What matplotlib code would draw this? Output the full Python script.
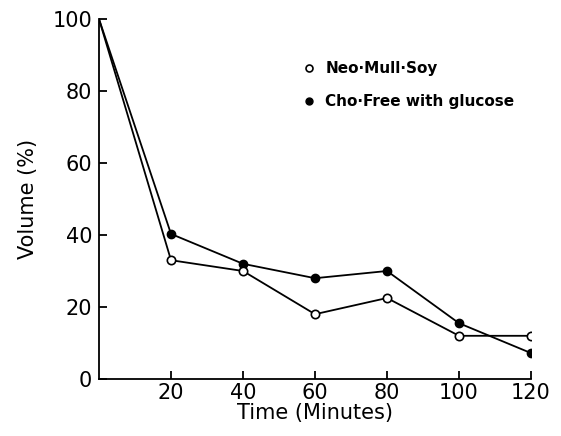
import matplotlib
matplotlib.use("Agg")
import matplotlib.pyplot as plt
from matplotlib.lines import Line2D

time = [0, 20, 40, 60, 80, 100, 120]
neo_mull_soy = [100, 33, 30, 18, 22.5, 12, 12]
cho_free = [100, 40.3, 32, 28, 30, 15.5, 7.2]
xticks = [20, 40, 60, 80, 100, 120]
yticks = [0, 20, 40, 60, 80, 100]

plt.rcParams['font.family'] = ['DejaVu Sans']
fig = plt.figure(figsize=(5.61, 4.36), dpi=100)
ax = fig.add_axes([99/561, 1-379/436, (531-99)/561, (379-19)/436])

marks = list(range(1, len(time)))
ax.plot(time, cho_free, color='black', lw=1.3, marker='o', ms=6,
        mfc='black', mec='black', markevery=marks, zorder=3)
ax.plot(time, neo_mull_soy, color='black', lw=1.3, marker='o', ms=6,
        mfc='white', mec='black', mew=1.2, markevery=marks, zorder=4)

ax.set_xlim(0, 120)
ax.set_ylim(0, 100)
ax.set_xticks(xticks)
ax.set_yticks(yticks)
ax.spines['top'].set_visible(False)
ax.spines['right'].set_visible(False)
for s in ('left', 'bottom'):
    ax.spines[s].set_linewidth(1.3)
ax.tick_params(direction='in', length=6, width=1.3, labelsize=15)
ax.tick_params(axis='y', pad=5)
ax.tick_params(axis='x', pad=3)
ax.set_xlabel('Time (Minutes)', fontsize=15, labelpad=0)
ax.set_ylabel('Volume (%)', fontsize=15, labelpad=10)

handles = [
    Line2D([], [], ls='none', marker='o', ms=5, mfc='white', mec='black', mew=1.2),
    Line2D([], [], ls='none', marker='o', ms=5, mfc='black', mec='black'),
]
leg = fig.legend(handles, ['Neo·Mull·Soy', 'Cho·Free with glucose'],
                 loc='upper left', bbox_to_anchor=(301/561, 1-61/436),
                 frameon=False, fontsize=11, handlelength=1.0, handletextpad=0.6,
                 labelspacing=1.2, borderpad=0, borderaxespad=0)
for t in leg.get_texts():
    t.set_fontweight('semibold')

fig.savefig('out.png', dpi=100)
